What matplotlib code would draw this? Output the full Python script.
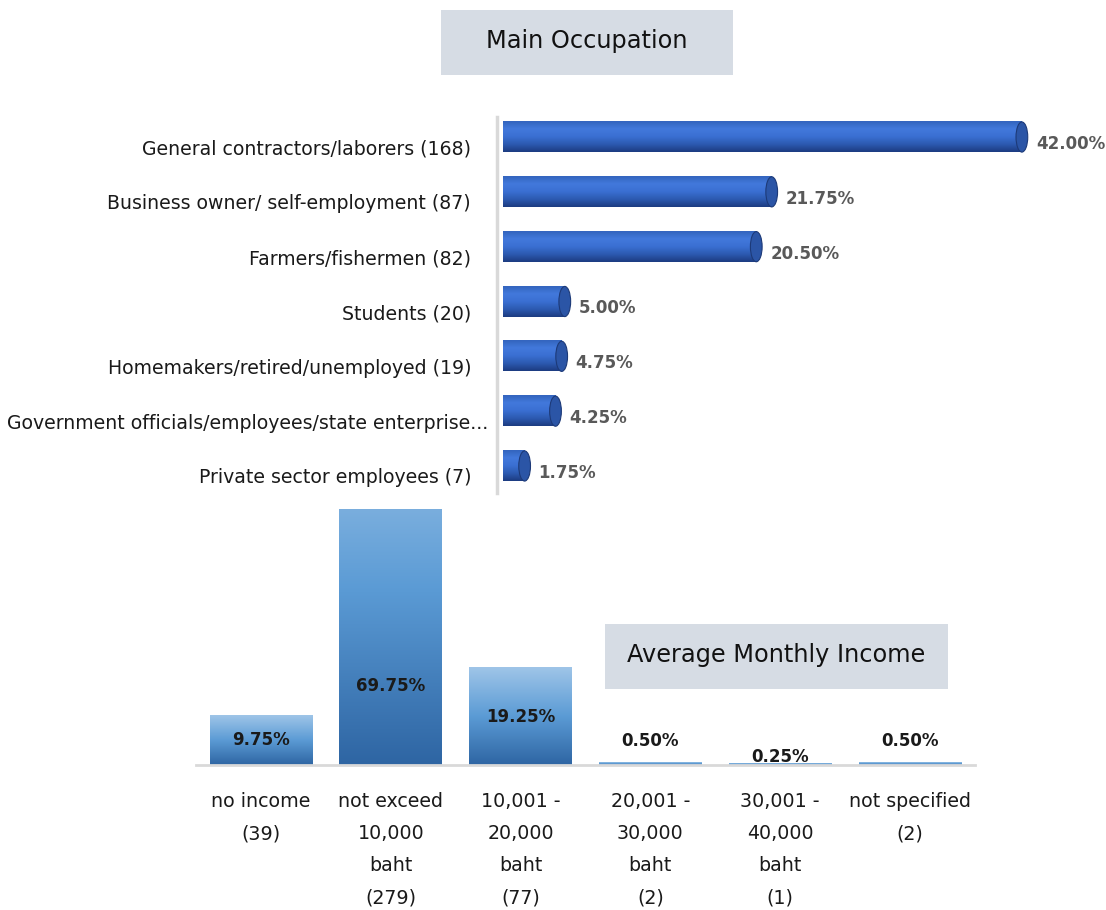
import numpy as np
import matplotlib
matplotlib.use("Agg")
import matplotlib.pyplot as plt
from matplotlib.patches import Rectangle, Ellipse
from matplotlib.colors import LinearSegmentedColormap
from matplotlib.transforms import ScaledTranslation

# --- data -------------------------------------------------------------------
occ_labels = [
    "General contractors/laborers (168)",
    "Business owner/ self-employment (87)",
    "Farmers/fishermen (82)",
    "Students (20)",
    "Homemakers/retired/unemployed (19)",
    "Government officials/employees/state enterprise...",
    "Private sector employees (7)",
]
occ_pct = [42.00, 21.75, 20.50, 5.00, 4.75, 4.25, 1.75]

inc_labels = [
    "no income\n(39)",
    "not exceed\n10,000\nbaht\n(279)",
    "10,001 -\n20,000\nbaht\n(77)",
    "20,001 -\n30,000\nbaht\n(2)",
    "30,001 -\n40,000\nbaht\n(1)",
    "not specified\n(2)",
]
inc_pct = [9.75, 69.75, 19.25, 0.50, 0.25, 0.50]
# where the value labels sit (in % units on the income axis)
inc_label_y = [4.9, 15.6, 9.4, 4.7, 1.6, 4.7]

plt.rcParams["font.family"] = ["DejaVu Sans"]
fig = plt.figure(figsize=(11.06, 9.10), dpi=100)
W, H = 1106, 910


def fig_box(x0, y0, x1, y1):
    """pixel box (top-left origin) -> figure fraction rect"""
    return [x0 / W, 1 - y1 / H, (x1 - x0) / W, (y1 - y0) / H]


def title_box(x0, y0, x1, y1, text):
    l, b, w, h = fig_box(x0, y0, x1, y1)
    fig.patches.append(Rectangle((l, b), w, h, transform=fig.transFigure,
                                 facecolor="#d6dce4", edgecolor="none", zorder=0))
    fig.text(l + w / 2, b + h / 2 + 0.002, text, ha="center", va="center",
             fontsize=17.3, color="#111111")


# --- top: main occupation (horizontal cylinders) -----------------------------
ax1 = fig.add_axes(fig_box(503, 109.6, 1096, 493.4))
cyl = LinearSegmentedColormap.from_list(
    "cyl", ["#3364bd", "#4279dc", "#3a6fd2", "#2c5ab0", "#1c3b80"])
grad = np.linspace(0, 1, 256).reshape(-1, 1)
bh = 0.55
ypos = np.arange(len(occ_pct))
for y, v in zip(ypos, occ_pct):
    ax1.imshow(grad, cmap=cyl, aspect="auto", interpolation="bicubic",
               extent=(0, v, y + bh / 2, y - bh / 2), zorder=2)
    ax1.add_patch(Ellipse((v, y), width=0.95, height=bh, facecolor="#2b55a6",
                          edgecolor="#1d3a78", lw=0.8, zorder=3))
    ax1.annotate(f"{v:.2f}%", (v, y), xytext=(10, -5), textcoords="offset points",
                 ha="left", va="center", fontsize=12, fontweight="bold",
                 color="#595959")
ax1.set_xlim(0, 48)
ax1.set_ylim(len(occ_pct) - 0.5, -0.5)
ax1.set_yticks(ypos)
ax1.set_yticklabels(occ_labels, fontsize=13.6, color="#1a1a1a")
ax1.tick_params(axis="y", length=0, pad=23)
for i, lab in enumerate(ax1.get_yticklabels()):
    dx = 0.17 if lab.get_text().endswith("...") else 0.0
    lab.set_transform(lab.get_transform()
                      + ScaledTranslation(dx, -0.10, fig.dpi_scale_trans))
ax1.set_xticks([])
for s in ax1.spines.values():
    s.set_visible(False)
ax1.axvline(-0.5, ymin=0.0, ymax=0.98, color="#d9d9d9", lw=2.5, clip_on=False)

title_box(441, 10, 733, 75, "Main Occupation")

# --- bottom: average monthly income (vertical bars) -------------------------
ax2 = fig.add_axes(fig_box(196, 509, 975, 765))
inc_cmap = LinearSegmentedColormap.from_list("inc", ["#9fc5e8", "#5b9bd5", "#2e65a3"])
bw = 0.79
xpos = np.arange(len(inc_pct))
for x, v, ly in zip(xpos, inc_pct, inc_label_y):
    ax2.imshow(grad, cmap=inc_cmap, aspect="auto", interpolation="bicubic",
               extent=(x - bw / 2, x + bw / 2, 0, v), zorder=2)
    ax2.text(x, ly, f"{v:.2f}%", ha="center", va="center", fontsize=12,
             fontweight="bold", color="#1a1a1a", zorder=4)
ax2.set_xlim(-0.5, len(inc_pct) - 0.5)
ax2.set_ylim(0, 50.6)
ax2.set_xticks(xpos)
ax2.set_xticklabels(inc_labels, fontsize=13.7, color="#1a1a1a", linespacing=1.87)
ax2.tick_params(axis="x", length=0, pad=19.5)
ax2.set_yticks([])
for k in ("left", "right", "top"):
    ax2.spines[k].set_visible(False)
ax2.spines["bottom"].set_color("#d9d9d9")
ax2.spines["bottom"].set_linewidth(2)

title_box(605, 624, 948, 689, "Average Monthly Income")

fig.savefig("out.png", dpi=100)
